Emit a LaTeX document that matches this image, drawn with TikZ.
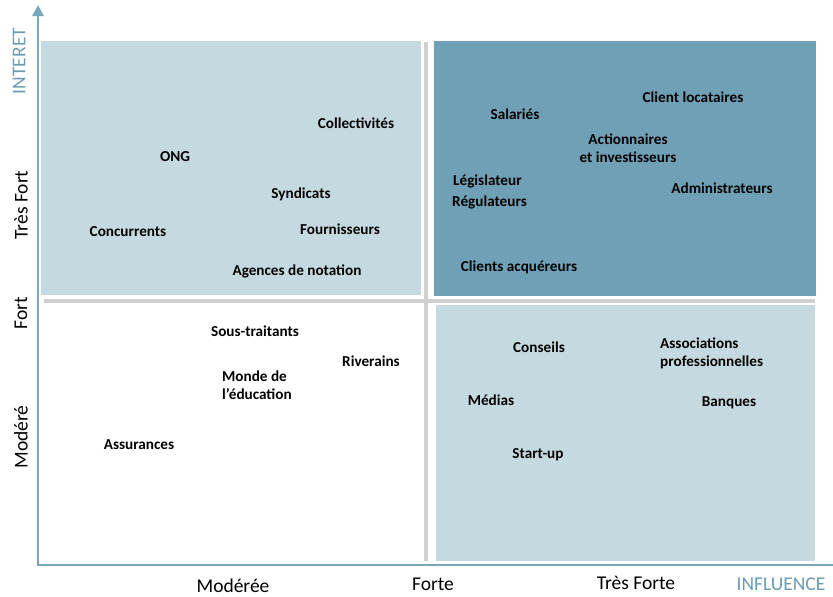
\documentclass[tikz,border=0pt]{standalone}
\usepackage{fontspec}
\setmainfont{Carlito}
\usetikzlibrary{arrows.meta}
\definecolor{clair}{RGB}{197,217,224}
\definecolor{fonce}{RGB}{111,160,181}
\definecolor{axebleu}{RGB}{122,166,187}
\definecolor{titrebleu}{RGB}{106,155,176}
\definecolor{grille}{RGB}{208,208,208}

\begin{document}
\begin{tikzpicture}[x=1pt, y=-1pt,
    every node/.style={font=\bfseries\fontsize{15.2}{18}\selectfont, inner sep=0pt},
    echelle/.style={font=\mdseries\fontsize{19.5}{22}\selectfont},
    titre/.style={font=\mdseries\fontsize{19.5}{22}\selectfont, text=titrebleu}]
    \useasboundingbox (0,0) rectangle (833,597);
    % quadrants
    \fill[clair] (41,41) rectangle (421,295);
    \fill[fonce] (434,41) rectangle (816,296);
    \fill[clair] (436,305) rectangle (815,561);
    \draw[grille, line width=4pt] (44,301) -- (815,301);
    \draw[grille, line width=4pt] (426,42) -- (426,561);
    % axes
    \draw[axebleu, line width=2.5pt, -{Triangle[width=11pt,length=11pt]}]
        (833,565) -- (38,565) -- (38,5);
    % graduations
    \node[titre, rotate=90] (interet) at (19,61) {INTERET};
    \node[echelle, rotate=90] (tfort) at (21,205) {Très Fort};
    \node[echelle, rotate=90] (fort) at (21,313) {Fort};
    \node[echelle, rotate=90] (modere) at (21,437) {Modéré};
    \node[echelle] (moderee) at (233,586) {Modérée};
    \node[echelle] (forte) at (433,584) {Forte};
    \node[echelle] (tforte) at (636,583) {Très Forte};
    \node[titre] (influence) at (781,584) {INFLUENCE};
    % haut gauche
    \node (collect) at (356,123) {Collectivités};
    \node (ong) at (175,157) {ONG};
    \node (syndic) at (301,194) {Syndicats};
    \node (fourn) at (340,229) {Fournisseurs};
    \node (concur) at (128,232) {Concurrents};
    \node (agences) at (297,271) {Agences de notation};
    % haut droite
    \node (salaries) at (515,114) {Salariés};
    \node (locat) at (693,97) {Client locataires};
    \node[align=center] (action) at (628,148) {Actionnaires\\et investisseurs};
    \node[anchor=west] (legis) at (453,181) {Législateur};
    \node[anchor=west] (regul) at (452,202) {Régulateurs};
    \node (admin) at (722,188) {Administrateurs};
    \node (acque) at (519,267) {Clients acquéreurs};
    % bas gauche
    \node (sous) at (255,331) {Sous-traitants};
    \node (river) at (371,361) {Riverains};
    \node[anchor=west, align=left] (monde) at (222,385) {Monde de\\l’éducation};
    \node (assur) at (139,445) {Assurances};
    % bas droite
    \node (conseils) at (539,347) {Conseils};
    \node[anchor=west, align=left] (assoc) at (660,353) {Associations\\professionnelles};
    \node (medias) at (491,400) {Médias};
    \node (banques) at (729,403) {Banques};
    \node (startup) at (538,455) {Start-up};
\end{tikzpicture}
\end{document}
